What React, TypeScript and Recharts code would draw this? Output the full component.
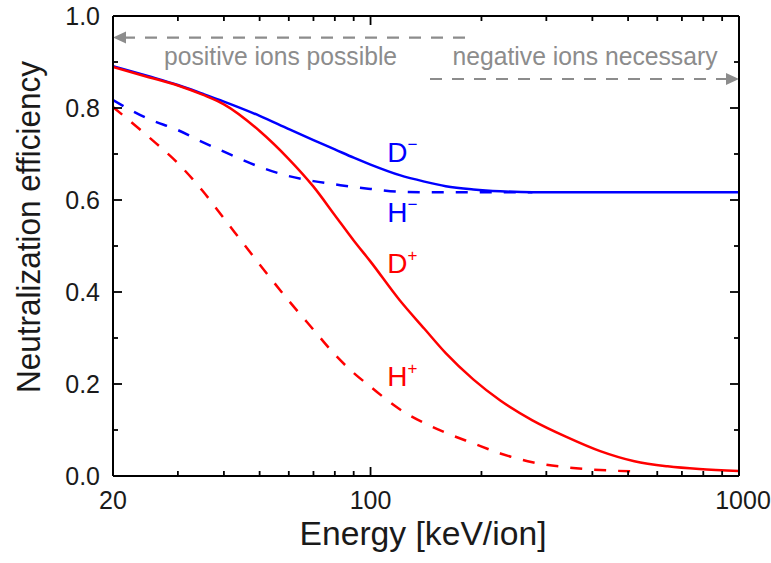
import React from "react";
import { LineChart, Line, XAxis, YAxis, ReferenceLine, ReferenceDot, Label } from "recharts";

// energy grid [keV/ion]
const energy = [20, 25, 30, 35, 40, 50, 60, 70, 80, 90, 100, 120, 140, 160, 190, 225, 275, 340, 420, 520, 640, 780, 1000];

// neutralization efficiency per ion species
const dMinus = [0.891, 0.869, 0.85, 0.831, 0.814, 0.783, 0.754, 0.73, 0.71, 0.692, 0.677, 0.654, 0.64, 0.63, 0.623, 0.619, 0.617, 0.617, 0.617, 0.617, 0.617, 0.617, 0.617];
const hMinus = [0.817, 0.776, 0.752, 0.726, 0.705, 0.672, 0.652, 0.641, 0.634, 0.628, 0.624, 0.618, 0.617, 0.617, 0.617, 0.617, 0.617, null, null, null, null, null, null];
const dPlus = [0.889, 0.867, 0.849, 0.829, 0.808, 0.75, 0.689, 0.629, 0.567, 0.512, 0.466, 0.382, 0.32, 0.267, 0.21, 0.164, 0.121, 0.085, 0.054, 0.032, 0.021, 0.015, 0.011];
const hPlus = [0.802, 0.737, 0.68, 0.62, 0.56, 0.46, 0.381, 0.318, 0.264, 0.224, 0.194, 0.145, 0.115, 0.094, 0.071, 0.049, 0.03, 0.019, 0.013, 0.01, null, null, null];

const xTicks = [20, 30, 40, 50, 60, 70, 80, 90, 100, 200, 300, 400, 500, 600, 700, 800, 900, 1000];
const xLabels = [20, 100, 1000];
const yTicks = [0, 0.1, 0.2, 0.3, 0.4, 0.5, 0.6, 0.7, 0.8, 0.9, 1.0];

// regime arrows
const positiveArrow = { from: 20, to: 190, y: 0.953 };
const negativeArrow = { from: 145, to: 1000, y: 0.863 };
const regimeTexts = [
    { text: "positive ions possible", x: 57, y: 0.893, len: 233 },
    { text: "negative ions necessary", x: 382, y: 0.893, len: 265 },
];

const curveLabels = [
    { base: "D", sup: "\u2212", x: 111, y: 0.704, color: "#0000ff" },
    { base: "H", sup: "\u2212", x: 111, y: 0.574, color: "#0000ff" },
    { base: "D", sup: "+", x: 111, y: 0.463, color: "#ff0000" },
    { base: "H", sup: "+", x: 111, y: 0.217, color: "#ff0000" },
];

const data = energy.map((e, i) => ({ e, dMinus: dMinus[i], hMinus: hMinus[i], dPlus: dPlus[i], hPlus: hPlus[i] }));

const FONT = "'Liberation Sans', Arial, sans-serif";
const GRAY = "#8c8c8c";
const INK = "#1a1a1a";
const MAJOR = 9;
const MINOR = 5;

const isMajorY = (v: number) => Math.abs(v * 5 - Math.round(v * 5)) < 1e-6;
const isMajorX = (v: number) => v === 100 || v === 1000;

function BottomTick(props: any) {
    const { x, y, payload } = props;
    const v = payload.value;
    const len = isMajorX(v) ? MAJOR : MINOR;
    return (
        <g>
            {v !== 20 && v !== 1000 && <line x1={x} x2={x} y1={y} y2={y - len} stroke="#000" strokeWidth={1.8} />}
            {xLabels.includes(v) && (
                <text x={v === 1000 ? x + 4 : x} y={y + 33} textAnchor="middle" fontSize={25} fontFamily={FONT} fill={INK}>{v}</text>
            )}
        </g>
    );
}

function TopTick(props: any) {
    const { x, y, payload } = props;
    const v = payload.value;
    if (v === 20 || v === 1000) return <g />;
    const len = isMajorX(v) ? MAJOR : MINOR;
    return <line x1={x} x2={x} y1={y} y2={y + len} stroke="#000" strokeWidth={1.8} />;
}

function LeftTick(props: any) {
    const { x, y, payload } = props;
    const v = payload.value;
    const major = isMajorY(v);
    return (
        <g>
            {v !== 0 && v !== 1 && <line x1={x} x2={x + (major ? MAJOR : MINOR)} y1={y} y2={y} stroke="#000" strokeWidth={1.8} />}
            {major && (
                <text x={x - 13} y={y} dy="0.36em" textAnchor="end" fontSize={25} fontFamily={FONT} fill={INK}>{v.toFixed(1)}</text>
            )}
        </g>
    );
}

function RightTick(props: any) {
    const { x, y, payload } = props;
    const v = payload.value;
    if (v === 0 || v === 1) return <g />;
    const len = isMajorY(v) ? MAJOR : MINOR;
    return <line x1={x} x2={x - len} y1={y} y2={y} stroke="#000" strokeWidth={1.8} />;
}

function RegimeArrow(props: any) {
    const { x1, y1, x2, y2, dir } = props;
    const tipX = dir === "left" ? x1 : x2;
    const s = dir === "left" ? 1 : -1;
    return (
        <g>
            <line x1={dir === "left" ? x1 + 10 : x1} y1={y1} x2={dir === "left" ? x2 : x2 - 10} y2={y2} stroke={GRAY} strokeWidth={2.2} strokeDasharray="12 10" />
            <polygon points={`${tipX},${y1} ${tipX + s * 13},${y1 - 6} ${tipX + s * 13},${y1 + 6}`} fill={GRAY} />
        </g>
    );
}

export default function App() {
    return (
        <div style={{ position: "fixed", left: 0, top: 0, background: "#fff" }}>
            <LineChart width={771} height={563} data={data} margin={{ top: 15, right: 31, bottom: 27, left: 53 }}>
                <XAxis
                    dataKey="e" type="number" scale="log" domain={[20, 1000]} allowDataOverflow
                    ticks={xTicks} interval={0} tickSize={0} tickMargin={0} tickLine={false}
                    tick={<BottomTick />} height={60} axisLine={{ stroke: "#000", strokeWidth: 2 }}
                >
                    <Label content={({ viewBox }: any) => (
                        <text x={viewBox.x + viewBox.width / 2 - 3} y={viewBox.y + 69} textAnchor="middle" fontSize={34} fontFamily={FONT} fill={INK}
                            textLength={247} lengthAdjust="spacingAndGlyphs">Energy [keV/ion]</text>
                    )} />
                </XAxis>
                <XAxis
                    xAxisId="top" orientation="top" dataKey="e" type="number" scale="log" domain={[20, 1000]} allowDataOverflow
                    ticks={xTicks} interval={0} tickSize={0} tickMargin={0} tickLine={false}
                    tick={<TopTick />} height={1} axisLine={{ stroke: "#000", strokeWidth: 2 }}
                />
                <YAxis
                    type="number" domain={[0, 1]} ticks={yTicks} interval={0} tickSize={0} tickMargin={0} tickLine={false}
                    tick={<LeftTick />} width={60} axisLine={{ stroke: "#000", strokeWidth: 2 }}
                >
                    <Label content={() => (
                        <text x={0} y={0} transform="translate(40, 227) rotate(-90)" textAnchor="middle" fontSize={33} fontFamily={FONT} fill={INK}
                            textLength={332} lengthAdjust="spacingAndGlyphs">Neutralization efficiency</text>
                    )} />
                </YAxis>
                <YAxis
                    yAxisId="right" orientation="right" type="number" domain={[0, 1]} ticks={yTicks} interval={0}
                    tickSize={0} tickMargin={0} tickLine={false} tick={<RightTick />} width={1}
                    axisLine={{ stroke: "#000", strokeWidth: 2 }}
                />

                <ReferenceLine
                    segment={[{ x: positiveArrow.from, y: positiveArrow.y }, { x: positiveArrow.to, y: positiveArrow.y }]}
                    shape={(p: any) => <RegimeArrow {...p} dir="left" />}
                />
                <ReferenceLine
                    segment={[{ x: negativeArrow.from, y: negativeArrow.y }, { x: negativeArrow.to, y: negativeArrow.y }]}
                    shape={(p: any) => <RegimeArrow {...p} dir="right" />}
                />
                {regimeTexts.map((t) => (
                    <ReferenceDot key={t.text} x={t.x} y={t.y} r={0}
                        shape={(p: any) => (
                            <text x={p.cx} y={p.cy} textAnchor="middle" fontSize={26} fontFamily={FONT} fill={GRAY}
                                textLength={t.len} lengthAdjust="spacingAndGlyphs">{t.text}</text>
                        )}
                    />
                ))}

                {/* dashed H curves sit on the mirrored top/right axes (same scales) */}
                <Line xAxisId="top" yAxisId="right" dataKey="hMinus" stroke="#0000ff" strokeWidth={2.5} strokeDasharray="12 12" dot={false} type="monotone" isAnimationActive={false} />
                <Line dataKey="dMinus" stroke="#0000ff" strokeWidth={2.5} dot={false} type="monotone" isAnimationActive={false} />
                <Line xAxisId="top" yAxisId="right" dataKey="hPlus" stroke="#ff0000" strokeWidth={2.5} strokeDasharray="12 12" dot={false} type="monotone" isAnimationActive={false} />
                <Line dataKey="dPlus" stroke="#ff0000" strokeWidth={2.5} dot={false} type="monotone" isAnimationActive={false} />

                {curveLabels.map((c, i) => (
                    <ReferenceDot key={i} x={c.x} y={c.y} r={0}
                        shape={(p: any) => (
                            <text x={p.cx} y={p.cy} dy="0.36em" fontSize={28} fontFamily={FONT} fill={c.color}>
                                {c.base}
                                <tspan dy={-12} fontSize={17}>{c.sup}</tspan>
                            </text>
                        )}
                    />
                ))}
            </LineChart>
        </div>
    );
}
